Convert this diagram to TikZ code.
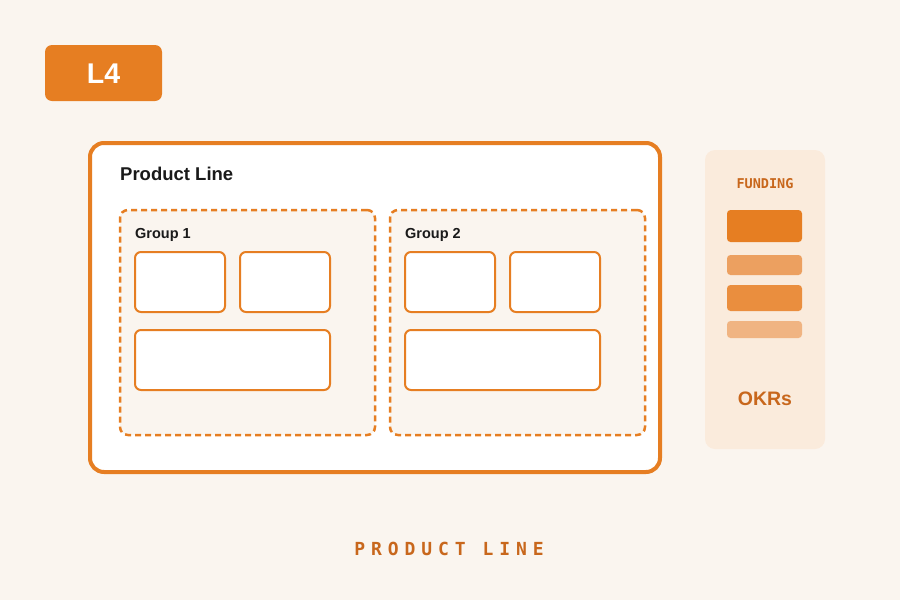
\documentclass[tikz,border=0pt]{standalone}
\usepackage{fontspec}
\setmainfont{Liberation Sans}
\newfontfamily\monob{DejaVu Sans Mono Bold}
\definecolor{bgc}{HTML}{FAF5EF}
\definecolor{org}{HTML}{E67E22}
\definecolor{orgd}{HTML}{C8671C}
\definecolor{panel}{HTML}{FAEBDC}
\definecolor{barb}{HTML}{ECA060}
\definecolor{barc}{HTML}{EA8E3E}
\definecolor{bard}{HTML}{F0B482}
\definecolor{ink}{HTML}{1A1A1A}
\tikzset{
  box/.style={rectangle, inner sep=0pt, outer sep=0pt},
  cell/.style={box, draw=org, line width=2pt, fill=white, rounded corners=6pt},
  grp/.style={box, draw=org, line width=2.5pt, fill=bgc, rounded corners=8pt, dash pattern=on 6pt off 4pt},
  bar/.style={box, rounded corners=3.5pt},
}
\begin{document}
\begin{tikzpicture}[x=1pt,y=-1pt]
\useasboundingbox (0,0) rectangle (900,600);
\fill[bgc] (0,0) rectangle (900,600);
% L4 badge
\node[box, fill=org, rounded corners=7pt, minimum width=117pt, minimum height=56pt] (badge) at (103.5,73) {};
\node[anchor=base, text=white, font=\fontsize{28.5}{28.5}\selectfont\bfseries] (badgetxt) at (103.5,83.5) {L4};
% Product line
\node[box, draw=org, line width=4pt, fill=white, rounded corners=14pt, minimum width=570pt, minimum height=329pt] (pl) at (375,307.5) {};
\node[anchor=base west, inner sep=0pt, text=ink, font=\fontsize{18.5}{18.5}\selectfont\bfseries] (pltxt) at (120,180.5) {Product Line};
% groups
\node[grp, minimum width=255pt, minimum height=225pt] (g1) at (247.5,322.5) {};
\node[grp, minimum width=255pt, minimum height=225pt] (g2) at (517.5,322.5) {};
\node[anchor=base west, inner sep=0pt, text=ink, font=\fontsize{14.5}{14.5}\selectfont\bfseries] (g1txt) at (135,238) {Group 1};
\node[anchor=base west, inner sep=0pt, text=ink, font=\fontsize{14.5}{14.5}\selectfont\bfseries] (g2txt) at (405,238) {Group 2};
\node[cell, minimum width=90pt, minimum height=60pt] (a1) at (180,282) {};
\node[cell, minimum width=90pt, minimum height=60pt] (a2) at (285,282) {};
\node[cell, minimum width=195pt, minimum height=60pt] (a3) at (232.5,360) {};
\node[cell, minimum width=90pt, minimum height=60pt] (b1) at (450,282) {};
\node[cell, minimum width=90pt, minimum height=60pt] (b2) at (555,282) {};
\node[cell, minimum width=195pt, minimum height=60pt] (b3) at (502.5,360) {};
% side panel
\node[box, fill=panel, rounded corners=10pt, minimum width=120pt, minimum height=299pt] (side) at (765,299.5) {};
\node[anchor=base, inner sep=0pt, text=orgd, font=\monob\fontsize{13.5}{13.5}\selectfont] (fund) at (765,188.5) {FUNDING};
\node[bar, fill=org, minimum width=75pt, minimum height=32pt] (f1) at (764.5,226) {};
\node[bar, fill=barb, minimum width=75pt, minimum height=20pt] (f2) at (764.5,265) {};
\node[bar, fill=barc, minimum width=75pt, minimum height=26pt] (f3) at (764.5,298) {};
\node[bar, fill=bard, minimum width=75pt, minimum height=17pt] (f4) at (764.5,329.5) {};
\node[anchor=base, inner sep=0pt, text=orgd, font=\fontsize{19.5}{19.5}\selectfont\bfseries] (okr) at (765,405) {OKRs};
% caption
\node[anchor=base, inner sep=0pt, text=orgd, font=\monob\fontsize{18}{18}\selectfont\addfontfeature{LetterSpace=33}] (cap) at (449,555) {PRODUCT LINE};
\end{tikzpicture}
\end{document}
